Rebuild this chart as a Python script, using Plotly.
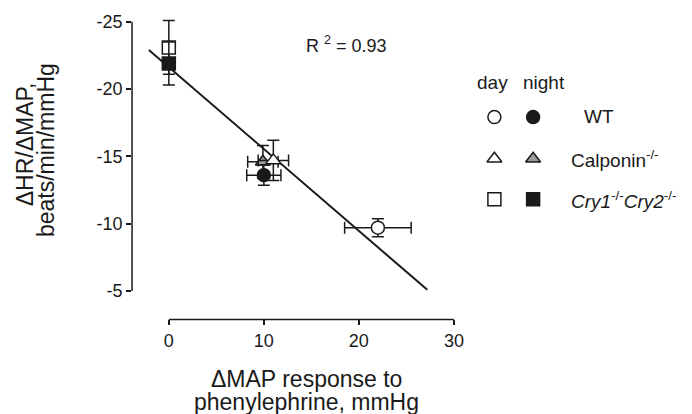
import numpy as np
import plotly.graph_objects as go

# ---------------- data ----------------
groups = ["WT", "Calponin-/-", "Cry1-/-Cry2-/-"]
day_map = [22.0, 11.0, 0.0]
day_map_err = [3.5, 1.6, 0.0]
day_ratio = [-9.7, -14.7, -23.1]
day_ratio_err = [0.67, 1.5, 2.0]
night_map = [10.0, 9.9, 0.0]
night_map_err = [1.8, 1.6, 0.0]
night_ratio = [-13.6, -14.6, -21.9]
night_ratio_err = [0.75, 1.2, 1.6]
fit_x_range = [-2.1, 27.2]
r2_text = "0.93"
x_ticks = [0, 10, 20, 30]
y_ticks = [-25, -20, -15, -10, -5]

# ---------------- styles ----------------
W, H = 692, 414
FONT = "Liberation Sans, Arial, sans-serif"
INK = "#1a1a1a"
symbols = ["circle", "triangle-up", "square"]
night_fill = [INK, "#9a9a9a", INK]
day_fill = ["white", "white", "white"]

# plot area in pixels
PL, PR, PT, PB = 133, 462, 12, 318
def px(x):
    return x / W
def py(y):
    return 1 - y / H

fig = go.Figure()

# regression line
all_x = np.array(day_map + night_map)
all_y = np.array(day_ratio + night_ratio)
slope, intercept = np.polyfit(all_x, all_y, 1)
fx = np.array(fit_x_range)
fig.add_trace(go.Scatter(x=fx, y=slope * fx + intercept, mode="lines",
                         line=dict(color=INK, width=2), hoverinfo="skip",
                         showlegend=False))

def add_point(x, xe, y, ye, sym, fill):
    fig.add_trace(go.Scatter(
        x=[x], y=[y], mode="markers",
        marker=dict(symbol=sym, size=13, color=fill,
                    line=dict(color=INK, width=1.5)),
        error_x=dict(type="data", array=[xe], visible=xe > 0,
                     color=INK, thickness=1.5, width=6),
        error_y=dict(type="data", array=[ye], visible=ye > 0,
                     color=INK, thickness=1.5, width=6),
        showlegend=False))

order = [(0, "day"), (1, "night"), (1, "day"), (0, "night"), (2, "day"), (2, "night")]
for i, which in order:
    if which == "day":
        add_point(day_map[i], day_map_err[i], day_ratio[i], day_ratio_err[i],
                  symbols[i], day_fill[i])
    else:
        add_point(night_map[i], night_map_err[i], night_ratio[i], night_ratio_err[i],
                  symbols[i], night_fill[i])

# legend markers on a pixel-coordinate overlay axis
leg_day_x, leg_night_x = 498, 537
leg_rows_y = [112.7, 155, 196]
for i in range(3):
    fig.add_trace(go.Scatter(
        x=[leg_day_x, leg_night_x], y=[leg_rows_y[i]] * 2, mode="markers",
        marker=dict(symbol=symbols[i], size=13,
                    color=[day_fill[i], night_fill[i]],
                    line=dict(color=INK, width=1.5)),
        xaxis="x2", yaxis="y2", showlegend=False, hoverinfo="skip"))

# ---------------- layout ----------------
axis_common = dict(showgrid=False, zeroline=False, showline=False,
                   ticks="outside", ticklen=5, tickwidth=1.5, tickcolor=INK,
                   tickfont=dict(family=FONT, size=18, color=INK))
fig.update_layout(
    width=W, height=H,
    margin=dict(l=0, r=0, t=0, b=0),
    paper_bgcolor="white", plot_bgcolor="rgba(0,0,0,0)",
    xaxis=dict(domain=[px(PL), px(PR)], range=[-3.87, 30.5],
               tickvals=x_ticks, ticktext=[str(v) for v in x_ticks],
               **axis_common),
    yaxis=dict(domain=[py(PB), py(PT)], range=[-2.88, -25.3],
               tickvals=y_ticks, ticktext=[str(v) for v in y_ticks],
               **axis_common),
    xaxis2=dict(domain=[0, 1], range=[0, W], visible=False, anchor="y2"),
    yaxis2=dict(domain=[0, 1], range=[H, 0], visible=False, anchor="x2"),
    showlegend=False,
)

# axis lines (offset style)
fig.add_shape(type="line", xref="x", yref="paper", x0=0, x1=30,
              y0=py(PB), y1=py(PB), line=dict(color=INK, width=1.5))
fig.add_shape(type="line", xref="paper", yref="y", x0=px(PL), x1=px(PL),
              y0=-25, y1=-5, line=dict(color=INK, width=1.5))

def ann(text, x, y, size, xanchor="center", angle=0):
    fig.add_annotation(text=text, x=px(x), y=py(y), xref="paper", yref="paper",
                       xanchor=xanchor, yanchor="middle", showarrow=False,
                       textangle=angle,
                       font=dict(family=FONT, size=size, color=INK))

# axis titles
ann("ΔMAP response to", 309, 378.7, 23)
ann("phenylephrine, mmHg", 309, 402, 23)
ann("ΔHR/ΔMAP,", 26, 140.5, 23, angle=-90)
ann("beats/min/mmHg", 47, 146.5, 23, angle=-90)

# R^2
ann("R <sup>2</sup> = " + r2_text, 349, 38.7, 18)

# legend text
ann("day", 496, 78, 19)
ann("night", 547.5, 78, 19)
ann("WT", 586, 112, 19, xanchor="left")
ann("Calponin<sup>-/-</sup>", 573, 155, 19, xanchor="left")
ann("<i>Cry1</i><sup>-/-</sup><i>Cry2</i><sup>-/-</sup>", 573, 197, 19, xanchor="left")

fig.write_html("out.html")
